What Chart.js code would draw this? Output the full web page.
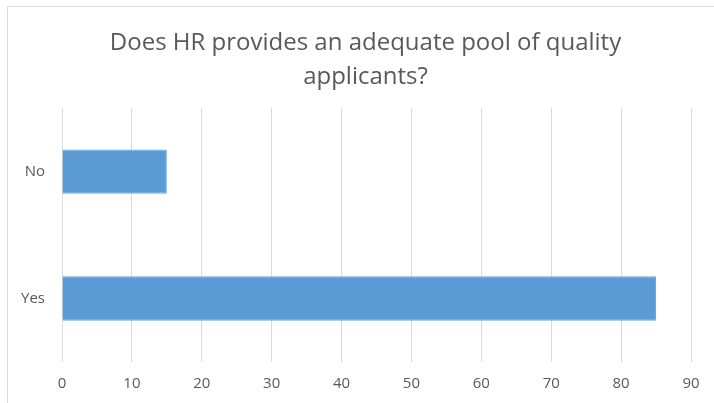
<!DOCTYPE html>
<html>
<head>
<meta charset="utf-8">
<script src="https://cdn.jsdelivr.net/npm/chart.js@4/dist/chart.umd.min.js"></script>
<style>
    html, body { margin: 0; padding: 0; background: #fff; }
    #chart { display: block; }
</style>
</head>
<body>
<canvas id="chart" width="714" height="403"></canvas>
<script>
// Chart data
const titleLines = ['Does HR provides an adequate pool of quality', 'applicants?'];
const categories = ['No', 'Yes'];
const responses = [15, 85];
const axisMin = 0;
const axisMax = 90;
const axisStep = 10;

// Light frame around the chart, like the exported office chart,
// and a small shift of the title box so it centres over the frame
const framePlugin = {
    id: 'frame',
    afterLayout(chart) {
        if (chart.titleBlock) {
            chart.titleBlock.left = 40;
        }
    },
    beforeDraw(chart) {
        const ctx = chart.ctx;
        ctx.save();
        ctx.strokeStyle = '#d9d9d9';
        ctx.lineWidth = 1;
        ctx.strokeRect(7.5, 6.5, 900, 900);
        ctx.restore();
    }
};

new Chart(document.getElementById('chart'), {
    type: 'bar',
    data: {
        labels: categories,
        datasets: [{
            data: responses,
            backgroundColor: '#5b9bd5',
            borderColor: '#6aa6dc',
            borderWidth: 1,
            barPercentage: 0.35,
            categoryPercentage: 1
        }]
    },
    options: {
        indexAxis: 'y',
        responsive: false,
        animation: false,
        layout: {
            padding: { left: 0, right: 23, top: 0, bottom: 0 }
        },
        plugins: {
            legend: { display: false },
            tooltip: { enabled: false },
            title: {
                display: true,
                text: titleLines,
                color: '#595959',
                font: { family: 'Open Sans', size: 24, weight: 'normal', lineHeight: 1.42 },
                padding: { top: 26, bottom: 14 }
            }
        },
        scales: {
            x: {
                min: axisMin,
                max: axisMax,
                ticks: {
                    stepSize: axisStep,
                    color: '#595959',
                    font: { family: 'Open Sans', size: 15 },
                    padding: 13
                },
                grid: { color: '#d9d9d9', drawTicks: false },
                border: { display: false },
                afterFit(scale) { scale.height = 41; }
            },
            y: {
                ticks: {
                    color: '#595959',
                    font: { family: 'Open Sans', size: 15 },
                    padding: 17
                },
                grid: { display: false, drawTicks: false },
                border: { display: false },
                afterFit(scale) { scale.width = 62; }
            }
        }
    },
    plugins: [framePlugin]
});
</script>
</body>
</html>
